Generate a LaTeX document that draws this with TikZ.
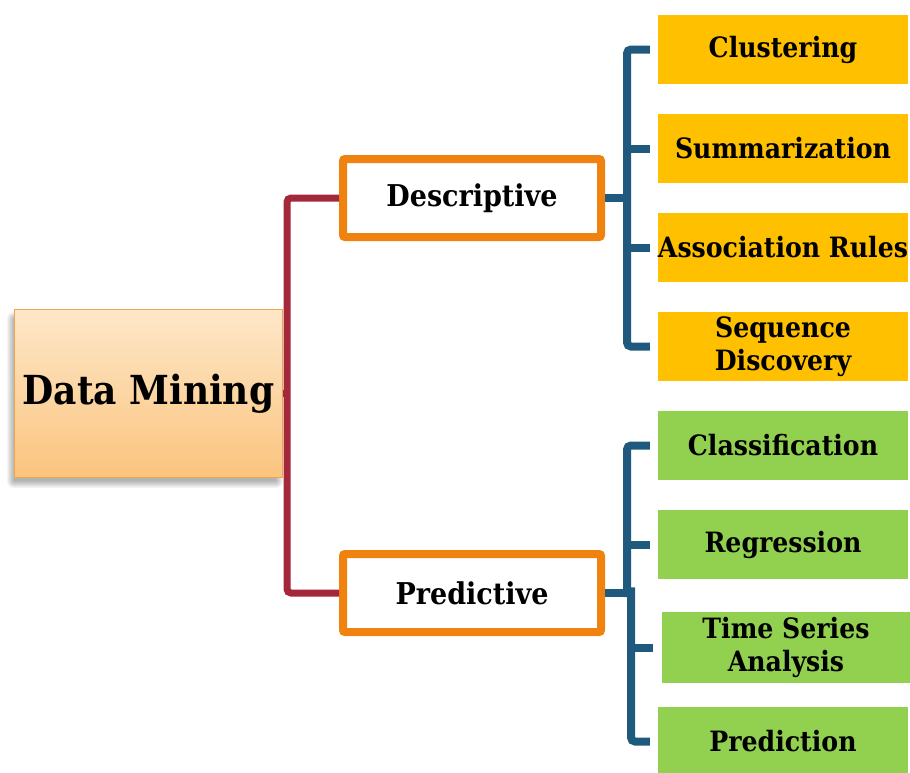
\documentclass[tikz,border=0pt]{standalone}
\usepackage{fontspec}
\setmainfont{DejaVu Serif Condensed}
\usetikzlibrary{calc}
\definecolor{redl}{HTML}{A3283A}
\definecolor{bluel}{HTML}{1F5A7E}
\definecolor{orangeb}{HTML}{F0820F}
\definecolor{yellowb}{HTML}{FFC000}
\definecolor{greenb}{HTML}{92D050}
\definecolor{dmtop}{HTML}{FDE7C8}
\definecolor{dmbot}{HTML}{FBC47E}
\definecolor{dmedge}{HTML}{EDA64C}
\tikzset{
  leaf/.style={rectangle, minimum width=250pt, minimum height=69pt, inner sep=0pt, align=center, font=\bfseries\fontsize{28}{33}\selectfont},
  ybox/.style={leaf, fill=yellowb},
  gbox/.style={leaf, fill=greenb},
  midbox/.style={rectangle, draw=orangeb, line width=8pt, rounded corners=2pt, fill=white, minimum width=258pt, minimum height=78pt, inner sep=0pt, font=\bfseries\fontsize{30}{34}\selectfont},
  redline/.style={draw=redl, line width=7pt, rounded corners=4pt},
  blueline/.style={draw=bluel, line width=8pt, rounded corners=4pt},
}
\begin{document}
\begin{tikzpicture}[x=1pt,y=-1pt]
\useasboundingbox (0,0) rectangle (910,772);
% soft shadow of the root box
\foreach \i in {0,...,7} {
  \fill[black, opacity=0.045, rounded corners=\i pt] (14-4-\i+4,309+6-\i+4) rectangle (282-4+\i-2,477+6+\i-2);
}
% root
\node[rectangle, draw=dmedge, line width=1.5pt, top color=dmtop, bottom color=dmbot, minimum width=268pt, minimum height=168pt, inner sep=0pt,
  font=\bfseries\fontsize{40}{44}\selectfont] (dm) at (148.5,393.5) {Data Mining};
% middle
\node[midbox] (desc) at (472,198) {Descriptive};
\node[midbox] (pred) at (472,593) {Predictive};
% leaves
\node[ybox] (c1) at (783,49.5) {Clustering};
\node[ybox] (c2) at (783,148.5) {Summarization};
\node[ybox] (c3) at (783,247.5) {Association Rules};
\node[ybox] (c4) at (783,346.5) {Sequence\\Discovery};
\node[gbox] (p1) at (783,445.5) {Classification};
\node[gbox] (p2) at (783,544.5) {Regression};
\node[gbox, minimum width=248pt, minimum height=71pt] (p3) at (786,647.5) {Time Series\\Analysis};
\node[gbox] (p4) at (783,741.5) {Prediction};
% red connectors
\coordinate (rj) at (287,393.5);
\draw[redline] (desc.west) -| (rj) |- (pred.west);
\draw[redline, rounded corners=0pt] (dm.east) -- (rj);
% blue connectors descriptive
\coordinate (bj1) at (627,198);
\draw[blueline, rounded corners=0pt] (desc.east) -- (bj1);
\draw[blueline] ([xshift=-8pt]c1.west) -| (bj1) |- ([xshift=-8pt]c4.west);
\draw[blueline, rounded corners=0pt] ([xshift=-8pt]c2.west) -- (c2.west -| bj1);
\draw[blueline, rounded corners=0pt] ([xshift=-8pt]c3.west) -- (c3.west -| bj1);
% blue connectors predictive
\coordinate (bj2) at (627,593);
\coordinate (bj3) at (631,593);
\draw[blueline, rounded corners=0pt] (pred.east) -- (bj3);
\draw[blueline] ([xshift=-8pt]p1.west) -| (bj2);
\draw[blueline] ([xshift=-3pt]bj2) -- (bj3) -- ([yshift=8pt]bj3) |- ([xshift=-8pt]p4.west);
\draw[blueline, rounded corners=0pt] ([xshift=-8pt]p2.west) -- (p2.west -| bj2);
\draw[blueline, rounded corners=0pt] ([xshift=-9pt]p3.west) -- (p3.west -| bj3);
\end{tikzpicture}
\end{document}
